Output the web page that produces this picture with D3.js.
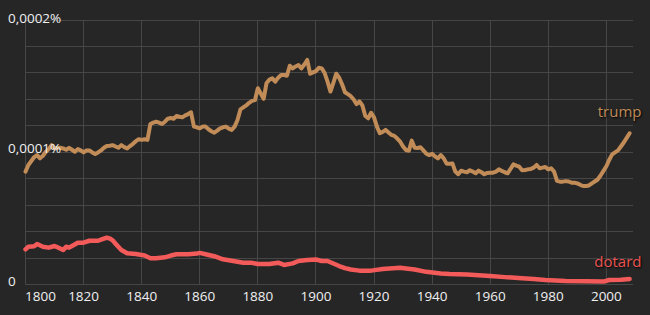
<!DOCTYPE html>
<html><head><meta charset="utf-8">
<script src="https://cdn.jsdelivr.net/npm/d3@7"></script>
<style>
html,body{margin:0;padding:0;background:#262626;}
svg{display:block;font-family:"Open Sans",sans-serif;}
</style></head>
<body><svg id="c" width="650" height="315"></svg>
<script>
// values in units of 0.00001 %
const UNIT = 0.00001;
const xTickYears = [1800,1820,1840,1860,1880,1900,1920,1940,1960,1980,2000];
const yTickValues = [0, 10, 20];
const yTickLabels = ["0", "0,0001%", "0,0002%"];
const seriesNames = ["trump", "dotard"];

const trumpYears = d3.range(1800, 2009);
const trumpValues = [
 8.5,9.0,9.3,9.6,9.75,9.5,9.7,10.0,10.2,10.5,
 10.25,10.3,10.3,10.25,10.15,10.3,10.15,10.0,10.2,10.1,
 9.95,10.1,10.1,9.95,9.83,9.95,10.1,10.3,10.43,10.45,
 10.5,10.4,10.3,10.5,10.35,10.25,10.43,10.6,10.8,10.95,
 10.9,10.95,10.9,12.1,12.2,12.27,12.2,12.1,12.27,12.5,
 12.55,12.5,12.7,12.65,12.6,12.75,12.85,12.98,11.9,11.85,
 11.77,11.9,11.9,11.7,11.55,11.44,11.6,11.77,11.85,11.9,
 11.75,11.65,11.9,12.4,13.2,13.35,13.5,13.7,13.85,13.9,
 14.8,14.4,14.0,15.2,15.45,15.55,15.3,15.6,15.8,15.8,
 15.75,16.5,16.3,16.45,16.56,16.3,16.6,16.94,15.9,16.0,
 16.1,16.35,16.3,15.95,15.3,14.55,15.2,15.9,15.6,15.1,
 14.5,14.35,14.2,13.95,13.6,13.8,13.5,12.7,12.53,12.95,
 12.6,11.9,11.4,11.5,11.65,11.45,11.27,11.2,11.0,10.76,
 10.4,10.13,10.08,10.84,10.3,10.28,10.34,10.1,9.85,9.75,
 9.85,9.65,9.5,9.75,9.5,9.1,9.1,9.12,8.5,8.3,
 8.57,8.5,8.45,8.6,8.5,8.37,8.57,8.45,8.3,8.4,
 8.42,8.42,8.5,8.67,8.55,8.45,8.37,8.7,9.05,8.95,
 8.87,8.6,8.62,8.67,8.7,8.8,9.0,8.75,8.8,8.85,
 8.67,8.75,8.5,7.8,7.74,7.74,7.78,7.75,7.66,7.65,
 7.61,7.5,7.41,7.41,7.45,7.61,7.75,7.9,8.2,8.55,
 8.9,9.4,9.8,9.95,10.1,10.4,10.7,11.05,11.4
];

const dotardYears = [1800,1801,1803,1804,1806,1808,1810,1811,1813,1814,1815,1816,1818,1820,1822,1825,1826,1828,1829,1830,1831,1833,1835,1838,1840,1841,1843,1845,1848,1850,1852,1856,1859,1860,1862,1865,1868,1870,1873,1875,1878,1880,1884,1887,1889,1892,1894,1897,1900,1902,1904,1906,1908,1910,1912,1915,1919,1923,1929,1931,1934,1938,1943,1946,1952,1960,1965,1971,1975,1979,1986,1993,1999,2001,2005,2008];
const dotardValues = [2.62,2.82,2.85,3.02,2.82,2.75,2.87,2.78,2.57,2.82,2.75,2.87,3.12,3.12,3.27,3.27,3.35,3.5,3.45,3.3,3.05,2.57,2.32,2.27,2.2,2.15,1.95,1.94,2.02,2.15,2.25,2.25,2.3,2.35,2.25,2.1,1.87,1.8,1.68,1.61,1.6,1.51,1.51,1.61,1.44,1.56,1.74,1.82,1.85,1.74,1.74,1.55,1.36,1.2,1.1,1.01,1.01,1.13,1.23,1.18,1.1,0.92,0.8,0.76,0.71,0.6,0.52,0.43,0.37,0.3,0.23,0.2,0.18,0.3,0.33,0.38];

const colors = {trump:"#c18c57", dotard:"#f35a5a"};
const labelColors = {trump:"#c08b59", dotard:"#ea5452"};

const svg = d3.select("#c");
const x = d3.scaleLinear().domain([1800, 2009]).range([25.5, 632.5]);
const y = d3.scaleLinear().domain([0, 20]).range([284, 19.5]);

const grid = svg.append("g");
const gridColor = "#464646";
const yGrid = y.ticks(10);
grid.selectAll("line.h").data(yGrid).join("line")
  .attr("x1", x.range()[0]).attr("x2", 633)
  .attr("y1", d => Math.round(y(d)) + 0.5).attr("y2", d => Math.round(y(d)) + 0.5)
  .attr("stroke", gridColor).attr("stroke-width", 1);
grid.selectAll("line.v").data(xTickYears).join("line")
  .attr("x1", d => Math.round(x(d) - 0.5) + 0.5).attr("x2", d => Math.round(x(d) - 0.5) + 0.5)
  .attr("y1", Math.round(y(20)) + 0.5).attr("y2", Math.round(y(0)) + 0.5)
  .attr("stroke", gridColor).attr("stroke-width", 1);

const line = d3.line().x(d => x(d[0])).y(d => y(d[1]));
const trumpData = trumpYears.map((yr, i) => [yr, trumpValues[i]]);
const dotardData = dotardYears.map((yr, i) => [yr, dotardValues[i]]);

svg.append("path").datum(dotardData).attr("d", line)
  .attr("fill","none").attr("stroke", colors.dotard).attr("stroke-width", 4.5)
  .attr("stroke-linejoin","round").attr("stroke-linecap","round");
svg.append("path").datum(trumpData).attr("d", line)
  .attr("fill","none").attr("stroke", colors.trump).attr("stroke-width", 4)
  .attr("stroke-linejoin","round").attr("stroke-linecap","round");

// x tick labels
svg.append("g").selectAll("text").data(xTickYears).join("text")
  .attr("x", (d, i) => i === 0 ? x(d) - 0.5 : x(d))
  .attr("y", 301)
  .attr("text-anchor", (d, i) => i === 0 ? "start" : "middle")
  .attr("fill", "#f0f0f0").attr("font-size", 13.5).attr("font-weight", 500)
  .text(d => d);

// y tick labels
svg.append("g").selectAll("text").data(yTickValues).join("text")
  .attr("x", 8)
  .attr("y", d => d === 20 ? 23 : y(d) + 1.5)
  .attr("fill", "#f0f0f0").attr("font-size", 13.5).attr("font-weight", 500)
  .text((d, i) => yTickLabels[i]);

// series labels
svg.append("text").attr("x", 641.5).attr("y", 117)
  .attr("text-anchor","end").attr("font-size", 15).attr("font-weight", 500).attr("fill", labelColors.trump)
  .style("text-shadow","1px 1px 2px #000").text(seriesNames[0]);
svg.append("text").attr("x", 641.5).attr("y", 266.5)
  .attr("text-anchor","end").attr("font-size", 15).attr("font-weight", 500).attr("fill", labelColors.dotard)
  .style("text-shadow","1px 1px 2px #000").text(seriesNames[1]);
</script></body></html>
